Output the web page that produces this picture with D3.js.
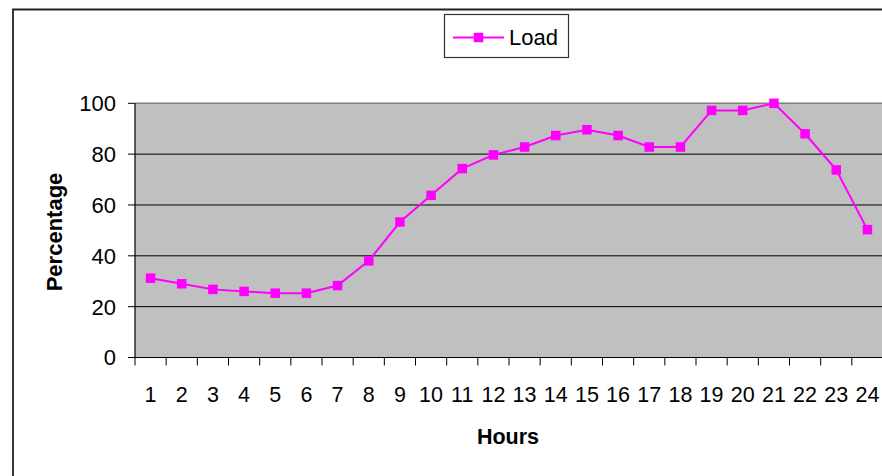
<!DOCTYPE html>
<html>
<head>
<meta charset="utf-8">
<script src="https://cdn.jsdelivr.net/npm/d3@7"></script>
<style>
  body { margin: 0; background: #fff; }
  svg { display: block; font-family: "Liberation Sans", Arial, sans-serif; }
</style>
</head>
<body>
<script>
// hours 1..24 and load in percent
let hours = d3.range(1, 25);
let load = [31.2, 29, 26.8, 26, 25.3, 25.3, 28.3, 38, 53.3, 63.8, 74.3, 79.7,
            82.8, 87.3, 89.6, 87.3, 82.8, 82.8, 97.2, 97.2, 100, 88, 73.8, 50.3];
let yTicks = [0, 20, 40, 60, 80, 100];
let seriesName = "Load";

let width = 882, height = 476;
let plotL = 135, plotR = 883, plotT = 103.3, plotB = 357.5;
let pink = "#ff00ff";

let svg = d3.select("body").append("svg")
    .attr("width", width)
    .attr("height", height);

// outer chart frame (right and bottom are cut off)
svg.append("path")
    .attr("d", "M13,476 L13,9.5 L882,9.5")
    .attr("fill", "none")
    .attr("stroke", "#222")
    .attr("stroke-width", 1.8);

let x = d3.scaleBand().domain(hours).range([plotL, plotR]).padding(0);
let y = d3.scaleLinear().domain([0, 100]).range([plotB, plotT]);

// plot area
svg.append("rect")
    .attr("x", plotL).attr("y", plotT)
    .attr("width", plotR - plotL).attr("height", plotB - plotT)
    .attr("fill", "#c0c0c0");

// gridlines
svg.selectAll(".grid")
    .data(yTicks.filter(d => d > 0 && d < 100))
    .enter().append("line")
    .attr("x1", plotL).attr("x2", plotR)
    .attr("y1", d => y(d)).attr("y2", d => y(d))
    .attr("stroke", "#000").attr("stroke-width", 1);

svg.append("line")
    .attr("x1", plotL).attr("x2", plotR)
    .attr("y1", y(100)).attr("y2", y(100))
    .attr("stroke", "#808080").attr("stroke-width", 1.5);

// y axis
svg.append("line")
    .attr("x1", plotL).attr("x2", plotL)
    .attr("y1", y(100)).attr("y2", plotB)
    .attr("stroke", "#000").attr("stroke-width", 1.2);

svg.selectAll(".ytick")
    .data(yTicks)
    .enter().append("line")
    .attr("x1", plotL - 7).attr("x2", plotL)
    .attr("y1", d => y(d)).attr("y2", d => y(d))
    .attr("stroke", "#000");

svg.selectAll(".ylab")
    .data(yTicks)
    .enter().append("text")
    .attr("x", 116)
    .attr("y", d => y(d))
    .attr("dy", "0.36em")
    .attr("text-anchor", "end")
    .style("font-size", "22px")
    .text(d => d);

// x axis
svg.append("line")
    .attr("x1", plotL).attr("x2", plotR)
    .attr("y1", plotB).attr("y2", plotB)
    .attr("stroke", "#000").attr("stroke-width", 1.2);

svg.selectAll(".xtick")
    .data(hours)
    .enter().append("line")
    .attr("x1", d => x(d)).attr("x2", d => x(d))
    .attr("y1", plotB).attr("y2", plotB + 8)
    .attr("stroke", "#000");

svg.selectAll(".xlab")
    .data(hours)
    .enter().append("text")
    .attr("x", d => x(d) + x.bandwidth() / 2)
    .attr("y", 402)
    .attr("text-anchor", "middle")
    .style("font-size", "21.5px")
    .text(d => d);

// axis titles
svg.append("text")
    .attr("x", 508).attr("y", 444)
    .attr("text-anchor", "middle")
    .style("font-size", "21.5px")
    .style("font-weight", "bold")
    .text("Hours");

svg.append("text")
    .attr("transform", "translate(62,232) rotate(-90)")
    .attr("text-anchor", "middle")
    .style("font-size", "22px")
    .style("font-weight", "bold")
    .text("Percentage");

// series
let line = d3.line()
    .x((d, i) => x(hours[i]) + x.bandwidth() / 2)
    .y(d => y(d));

svg.append("path")
    .datum(load)
    .attr("d", line)
    .attr("fill", "none")
    .attr("stroke", pink)
    .attr("stroke-width", 2);

let m = 9.5;
svg.selectAll(".pt")
    .data(load)
    .enter().append("rect")
    .attr("x", (d, i) => x(hours[i]) + x.bandwidth() / 2 - m / 2)
    .attr("y", d => y(d) - m / 2)
    .attr("width", m).attr("height", m)
    .attr("fill", pink);

// legend
let lg = svg.append("g");
lg.append("rect")
    .attr("x", 444.5).attr("y", 14.5)
    .attr("width", 124).attr("height", 43)
    .attr("fill", "#fff")
    .attr("stroke", "#333").attr("stroke-width", 1.2);
lg.append("line")
    .attr("x1", 453).attr("x2", 504)
    .attr("y1", 37.5).attr("y2", 37.5)
    .attr("stroke", pink).attr("stroke-width", 2);
lg.append("rect")
    .attr("x", 478.5 - m / 2).attr("y", 37.5 - m / 2)
    .attr("width", m).attr("height", m)
    .attr("fill", pink);
lg.append("text")
    .attr("x", 509).attr("y", 45)
    .style("font-size", "22px")
    .text(seriesName);
</script>
</body>
</html>
